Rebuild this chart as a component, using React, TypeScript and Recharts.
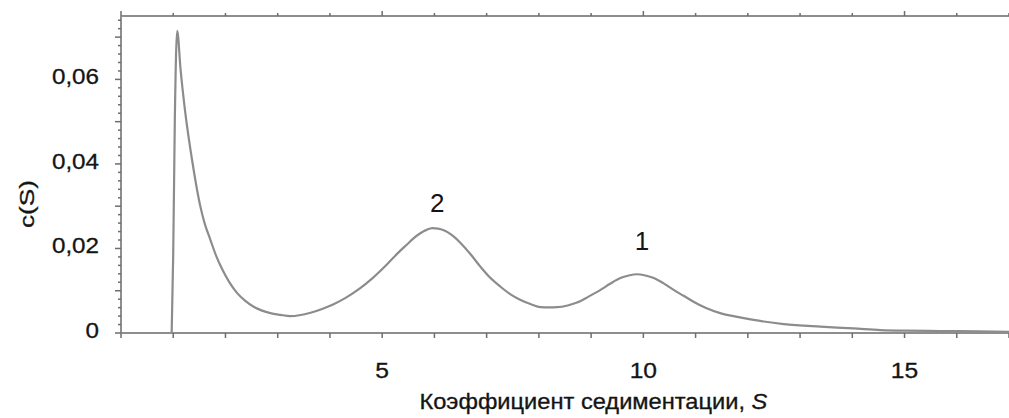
import React from 'react'
import { LineChart, Line, XAxis, YAxis, ReferenceDot } from 'recharts'

// c(S) distribution, sedimentation coefficient S vs concentration
const sValues = [
  0.97, 1.0, 1.03, 1.076, 1.14, 1.23, 1.36, 1.52, 1.6, 1.71, 1.82, 1.94, 2.07, 2.22, 2.38,
  2.54, 2.7, 2.86, 3.05, 3.24, 3.63, 3.85, 4.07, 4.3, 4.58, 4.8, 5.09, 5.3, 5.48, 5.6, 5.73,
  5.85, 5.96, 6.07, 6.18, 6.33, 6.5, 6.7, 6.88, 7.05, 7.26, 7.45, 7.65, 7.85, 8.03, 8.19,
  8.35, 8.55, 8.73, 8.95, 9.18, 9.37, 9.56, 9.72, 9.88, 10.04, 10.2, 10.38, 10.58, 10.77,
  10.96, 11.2, 11.47, 11.8, 12.11, 12.69, 13.39, 14.02, 14.54, 14.98, 15.68, 16.4, 17,
]
const cValues = [
  0, 0.019, 0.05, 0.0715, 0.0624, 0.0522, 0.041, 0.0299, 0.026, 0.0221, 0.0183, 0.015,
  0.0121, 0.0095, 0.0076, 0.0062, 0.0053, 0.0047, 0.0043, 0.004, 0.0048, 0.0057, 0.0068,
  0.0083, 0.0106, 0.0128, 0.0162, 0.0189, 0.021, 0.0224, 0.0236, 0.0244, 0.0248, 0.0247,
  0.0243, 0.0232, 0.0213, 0.0185, 0.0157, 0.0133, 0.011, 0.0092, 0.0078, 0.0068, 0.0061,
  0.00605, 0.0061, 0.0065, 0.0072, 0.0086, 0.0102, 0.0117, 0.013, 0.0136, 0.0139, 0.0136,
  0.013, 0.0118, 0.0102, 0.0088, 0.0074, 0.0059, 0.0047, 0.0038, 0.0031, 0.0021, 0.0015,
  0.0011, 0.0007, 0.00055, 0.00047, 0.0004, 0.0003,
]

const xTicks = Array.from({ length: 18 }, (_, i) => i)
const xLabelTicks = [5, 10, 15]
const yTicks = Array.from({ length: 38 }, (_, i) => Math.round(i * 2) / 1000)
const yLabelTicks = [0, 0.02, 0.04, 0.06]

const peaks = [
  { s: 5.96, text: '2' },
  { s: 9.88, text: '1' },
]
const peakDy: Record<string, number> = { '2': -16, '1': -24 }

const data = sValues.map((s, i) => ({ s, c: cValues[i] }))

const AXIS = '#8e8e8e'
const TICK = '#6e6e6e'
const CURVE = '#8c8c8c'
const FONT = '"Liberation Sans", Arial, sans-serif'
const TEXT = '#141414'

const fmtY = (v: number) => (v === 0 ? '0' : v.toFixed(2).replace('.', ','))

const BottomTick = ({ x, y, payload }: any) => (
  <g>
    <line x1={x} y1={y} x2={x} y2={y + 5} stroke={TICK} strokeWidth={1.5} />
    {xLabelTicks.includes(payload.value) && (
      <text
        transform={`translate(${x} ${y + 45}) scale(1.12 1)`}
        textAnchor="middle"
        fontSize={22}
        fontFamily={FONT}
        fill={TEXT}
        stroke={TEXT}
        strokeWidth={0.3}
      >
        {payload.value}
      </text>
    )}
  </g>
)

const TopTick = ({ x, y, payload }: any) => {
  const major = payload.value % 5 === 0
  return <line x1={x} y1={y} x2={x} y2={y - (major ? 5 : 3)} stroke={TICK} strokeWidth={1.5} />
}

const LeftTick = ({ x, y, payload }: any) => {
  const v = payload.value as number
  const medium = Math.round(v * 1000) % 10 === 0
  const labelled = yLabelTicks.some((t) => Math.abs(t - v) < 1e-9)
  return (
    <g>
      <line x1={x} y1={y} x2={x - (medium ? 6 : 3)} y2={y} stroke={TICK} strokeWidth={1.5} />
      {labelled && (
        <text
          transform={`translate(${x - 22} ${y - 3}) scale(1.1 1)`}
          textAnchor="end"
          dominantBaseline="central"
          fontSize={22}
          fontFamily={FONT}
          fill={TEXT}
          stroke={TEXT}
          strokeWidth={0.3}
        >
          {fmtY(v)}
        </text>
      )}
    </g>
  )
}

const XTitle = ({ viewBox }: any) => (
  <text
    transform={`translate(${viewBox.x + viewBox.width * 0.532} ${viewBox.y + 76}) scale(1.1 1)`}
    textAnchor="middle"
    fontSize={21.5}
    fontFamily={FONT}
    fill={TEXT}
    stroke={TEXT}
    strokeWidth={0.3}
  >
    Коэффициент седиментации, <tspan fontStyle="italic">S</tspan>
  </text>
)

const YTitle = ({ viewBox }: any) => (
  <text
    transform={`translate(${viewBox.x + 26} ${viewBox.y + 188}) rotate(-90) scale(1.25 1)`}
    textAnchor="middle"
    dominantBaseline="central"
    fontSize={21}
    fontFamily={FONT}
    fill={TEXT}
    stroke={TEXT}
    strokeWidth={0.3}
  >
    c(S)
  </text>
)

export default function App() {
  return (
    <div style={{ position: 'absolute', left: 0, top: 0, background: '#fff' }}>
      <LineChart width={1009} height={418} data={data} margin={{ top: 15, right: 0, bottom: 0, left: 0 }}>
        <XAxis
          dataKey="s"
          type="number"
          domain={[0, 17]}
          ticks={xTicks}
          interval={0}
          allowDataOverflow
          height={85}
          tickSize={0}
          tickMargin={0}
          tickLine={false}
          tick={BottomTick}
          axisLine={{ stroke: AXIS, strokeWidth: 2 }}
          label={XTitle}
        />
        <XAxis
          xAxisId="top"
          orientation="top"
          dataKey="s"
          type="number"
          domain={[0, 17]}
          ticks={xTicks}
          interval={0}
          allowDataOverflow
          height={1}
          tickSize={0}
          tickMargin={0}
          tickLine={false}
          tick={TopTick}
          axisLine={{ stroke: AXIS, strokeWidth: 2 }}
        />
        <YAxis
          type="number"
          domain={[0, 0.075]}
          ticks={yTicks}
          interval={0}
          allowDataOverflow
          width={121}
          tickSize={0}
          tickMargin={0}
          tickLine={false}
          tick={LeftTick}
          axisLine={{ stroke: AXIS, strokeWidth: 2 }}
          label={YTitle}
        />
        <Line
          type="monotone"
          dataKey="c"
          stroke={CURVE}
          strokeWidth={2.2}
          dot={false}
          isAnimationActive={false}
        />
        {peaks.map((p) => (
          <ReferenceDot
            key={p.text}
            x={p.s}
            y={cValues[sValues.indexOf(p.s)]}
            r={0}
            shape={({ cx, cy }: any) => (
              <text
                x={cx + 5}
                y={cy + peakDy[p.text]}
                textAnchor="middle"
                fontSize={26}
                fontFamily={FONT}
                fill="#141418"
              >
                {p.text}
              </text>
            )}
          />
        ))}
      </LineChart>
    </div>
  )
}
